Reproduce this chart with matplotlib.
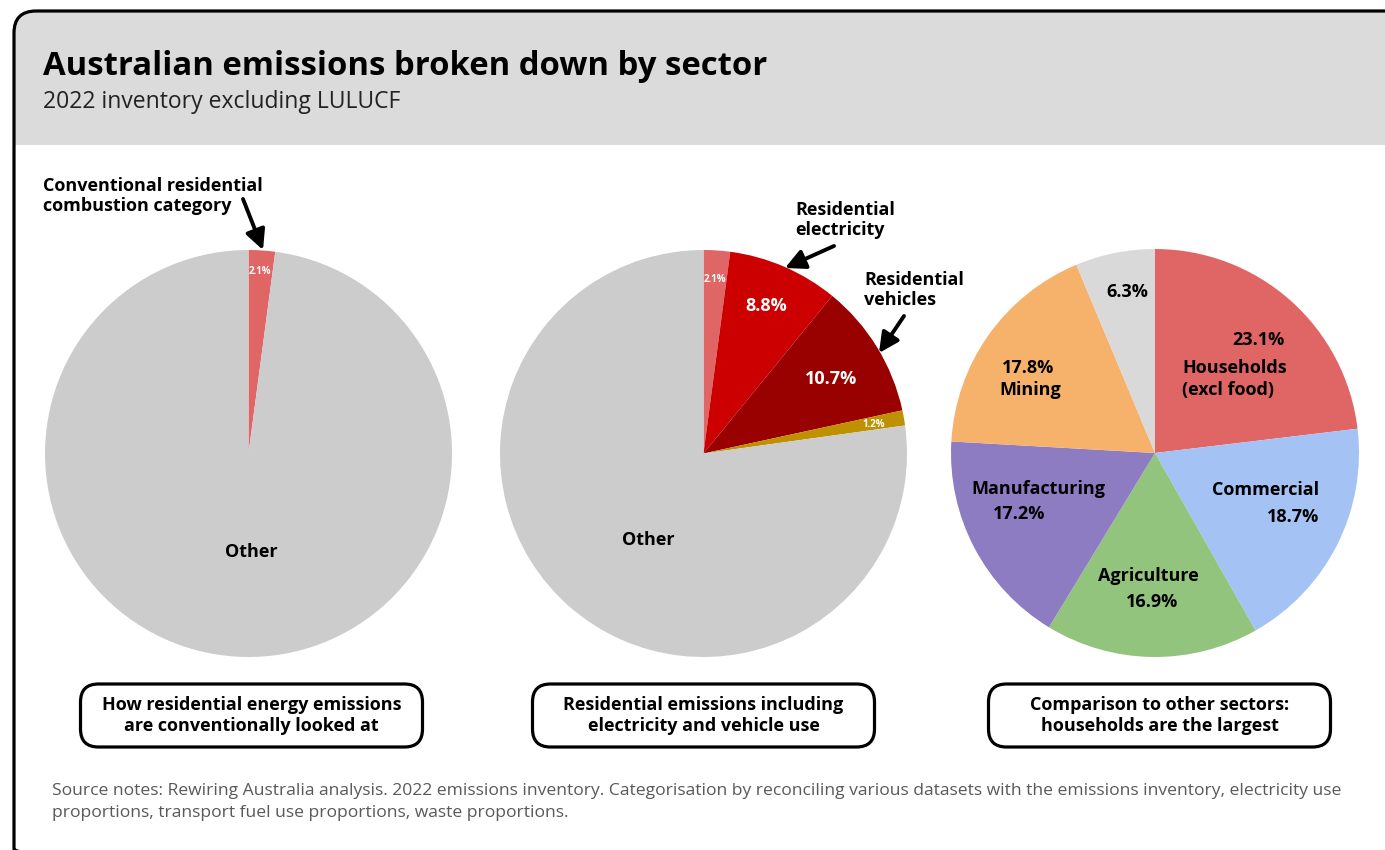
import numpy as np
import matplotlib.pyplot as plt
from matplotlib.patches import FancyBboxPatch, Rectangle

plt.rcParams['font.family'] = ['Open Sans', 'DejaVu Sans']

W, H = 1385, 850

# shares of the 2022 inventory (excl. LULUCF), in %
conv_names = ['Residential combustion', 'Other']
conv_shares = [2.1, 97.9]
conv_colors = ['#E06666', '#CCCCCC']

resid_names = ['Residential combustion', 'Residential electricity',
               'Residential vehicles', 'Residential waste', 'Other']
resid_shares = [2.1, 8.8, 10.7, 1.2, 77.2]
resid_colors = ['#E06666', '#CC0000', '#990000', '#BF9000', '#CCCCCC']

sector_names = ['Households\n(excl food)', 'Commercial', 'Agriculture',
                'Manufacturing', 'Mining', 'Other']
sector_shares = [23.1, 18.7, 16.9, 17.2, 17.8, 6.3]
sector_colors = ['#E06666', '#A4C2F4', '#93C47D', '#8E7CC3', '#F6B26B', '#D9D9D9']

box_titles = ['How residential energy emissions\nare conventionally looked at',
              'Residential emissions including\nelectricity and vehicle use',
              'Comparison to other sectors:\nhouseholds are the largest']

title = 'Australian emissions broken down by sector'
subtitle = '2022 inventory excluding LULUCF'
source = ('Source notes: Rewiring Australia analysis. 2022 emissions inventory. '
          'Categorisation by reconciling various datasets with the emissions inventory, '
          'electricity use\nproportions, transport fuel use proportions, waste proportions.')


def pct(v):
    return f'{v:.1f}%'


fig = plt.figure(figsize=(W / 100, H / 100), dpi=100)

# background card with grey header
bg = fig.add_axes([0, 0, 1, 1], zorder=0)
bg.set_xlim(0, W)
bg.set_ylim(H, 0)
bg.axis('off')
card = FancyBboxPatch((14, 11), 1392, 860, boxstyle='round,pad=0,rounding_size=22',
                      fc='white', ec='none')
bg.add_patch(card)
header = Rectangle((0, 0), W, 145, fc='#DBDBDB', ec='none')
bg.add_patch(header)
header.set_clip_path(card)


def draw_pie(cx, cy, r, shares, colors):
    ax = fig.add_axes([(cx - r) / W, 1 - (cy + r) / H, 2 * r / W, 2 * r / H], zorder=1)
    ax.pie(shares, colors=colors, startangle=90, counterclock=False,
           wedgeprops=dict(linewidth=0))
    ax.set_xlim(-1, 1)
    ax.set_ylim(-1, 1)
    ax.axis('off')
    return ax


draw_pie(248.5, 453.5, 203.5, conv_shares, conv_colors)
draw_pie(703.5, 453.5, 203.5, resid_shares, resid_colors)
draw_pie(1155, 453, 204, sector_shares, sector_colors)

# overlay for text, arrows and caption boxes
ov = fig.add_axes([0, 0, 1, 1], zorder=2)
ov.set_xlim(0, W)
ov.set_ylim(H, 0)
ov.axis('off')
ov.patch.set_alpha(0)

ov.add_patch(FancyBboxPatch((14, 11), 1392, 860, boxstyle='round,pad=0,rounding_size=22',
                            fc='none', ec='black', lw=2.3))

ov.text(43, 75, title, fontsize=23.7, fontweight='bold', va='baseline')
ov.text(43, 108, subtitle, fontsize=16.5, color='#222222', va='baseline')

bold = dict(fontsize=13, fontweight='bold', va='center')
arrow = dict(arrowstyle='-|>', color='black', lw=2.8, mutation_scale=30, shrinkA=0, shrinkB=0)
small = dict(ha='center', va='center', fontsize=7, fontweight='bold', color='white')

# pie 1
ov.text(43, 196, 'Conventional residential\ncombustion category', ha='left', **bold)
ov.annotate('', xy=(263, 250), xytext=(243, 199), arrowprops=arrow)
ov.text(260, 272, pct(conv_shares[0]), **small)
ov.text(251, 552, conv_names[1], ha='center', **bold)

# pie 2
ov.text(795, 220, 'Residential\nelectricity', ha='left', **bold)
ov.annotate('', xy=(785, 268), xytext=(834, 246), arrowprops=arrow)
ov.text(864, 290, 'Residential\nvehicles', ha='left', **bold)
ov.annotate('', xy=(879, 353), xytext=(904, 316), arrowprops=arrow)
ov.text(714.5, 279, pct(resid_shares[0]), **small)
ov.text(766, 306, pct(resid_shares[1]), ha='center', color='white', **bold)
ov.text(831, 379, pct(resid_shares[2]), ha='center', color='white', **bold)
ov.text(874, 424, pct(resid_shares[3]), **small)
ov.text(648, 540, resid_names[4], ha='center', **bold)

# pie 3
ov.text(1285, 340, pct(sector_shares[0]), ha='right', **bold)
ov.text(1182, 379, sector_names[0], ha='left', linespacing=1.25, **bold)
ov.text(1266, 490, sector_names[1], ha='center', **bold)
ov.text(1319, 517, pct(sector_shares[1]), ha='right', **bold)
ov.text(1148, 576, sector_names[2], ha='center', **bold)
ov.text(1152, 602, pct(sector_shares[2]), ha='center', **bold)
ov.text(1038, 489, sector_names[3], ha='center', **bold)
ov.text(1019, 514, pct(sector_shares[3]), ha='center', **bold)
ov.text(1028, 368, pct(sector_shares[4]), ha='center', **bold)
ov.text(1030, 390, sector_names[4], ha='center', **bold)
ov.text(1127, 292, pct(sector_shares[5]), ha='center', **bold)

# caption boxes under each pie
for cx, txt in zip([251.5, 703.5, 1159.5], box_titles):
    ov.add_patch(FancyBboxPatch((cx - 171, 684), 342, 63,
                                boxstyle='round,pad=0,rounding_size=18',
                                fc='white', ec='black', lw=2.3))
    ov.text(cx, 715.5, txt, ha='center', linespacing=1.2, **bold)

ov.text(52, 802, source, fontsize=12.6, color='#595959', va='center', ha='left',
        linespacing=1.45)

fig.savefig('out.png', dpi=100)
